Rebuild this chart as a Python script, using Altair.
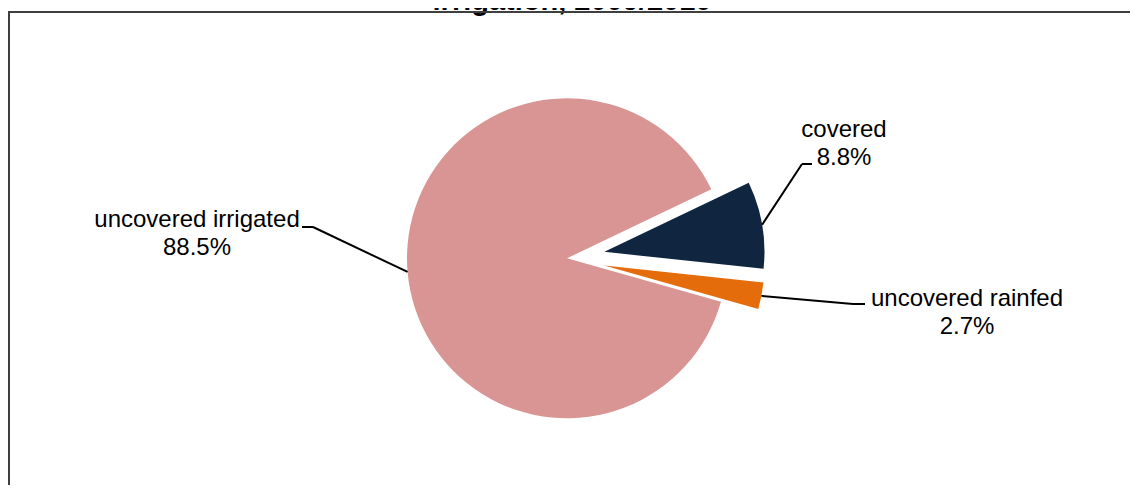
import math
import altair as alt
import pandas as pd

# ---- data ----
categories = ["covered", "uncovered rainfed", "uncovered irrigated"]
shares = [8.8, 2.7, 88.5]
slice_order = [0, 1, 2]
colors = ["#10253F", "#E46C0A", "#D99594"]
title_text = "irrigation, 2009/2010"

# ---- layout (view pixels) ----
W, H = 1122, 477
CX, CY, R = 559, 250.3, 160
START = math.radians(64.4)
EXPLODE = 38
FONT = "Liberation Sans"
label_layout = {
    "covered": dict(tx=836, ty=129, ex=794, ey=156, end=804),
    "uncovered rainfed": dict(tx=959, ty=298, ex=845, ey=296, end=857),
    "uncovered irrigated": dict(tx=189, ty=219, ex=305, ey=219, end=294),
}

df = pd.DataFrame({"category": categories, "value": shares, "order": slice_order})
for key in ["tx", "ty", "ex", "ey", "end"]:
    df[key] = [label_layout[c][key] for c in categories]


def geo(chart):
    return (
        chart.transform_joinaggregate(total="sum(value)")
        .transform_window(cum="sum(value)", sort=[alt.SortField("order")], frame=[None, 0])
        .transform_calculate(
            mid=f"{START} + 2*PI*(datum.cum - datum.value/2)/datum.total",
            xp=f"datum.category == 'uncovered irrigated' ? 0 : {EXPLODE}",
        )
        .transform_calculate(
            px=f"{CX} + datum.xp*sin(datum.mid)",
            py=f"{CY} - datum.xp*cos(datum.mid)",
        )
        .transform_calculate(
            lx=f"datum.px + {R}*sin(datum.mid)",
            ly=f"datum.py - {R}*cos(datum.mid)",
            lines="[datum.category, format(datum.value, '.1f') + '%']",
        )
    )


base = alt.Chart(df)

arcs = geo(base).mark_arc(outerRadius=R, stroke=None).encode(
    theta=alt.Theta("value:Q", stack=True,
                    scale=alt.Scale(range=[START, START + 2 * math.pi], nice=False)),
    order=alt.Order("order:Q"),
    color=alt.Color("category:N", scale=alt.Scale(domain=categories, range=colors), legend=None),
    x=alt.X("px:Q", scale=None, axis=None),
    y=alt.Y("py:Q", scale=None, axis=None),
)

lead1 = geo(base).mark_rule(color="black", strokeWidth=2).encode(
    x=alt.X("lx:Q", scale=None, axis=None),
    y=alt.Y("ly:Q", scale=None, axis=None),
    x2="ex:Q",
    y2="ey:Q",
)
lead2 = geo(base).mark_rule(color="black", strokeWidth=2).encode(
    x=alt.X("ex:Q", scale=None, axis=None),
    y=alt.Y("ey:Q", scale=None, axis=None),
    x2="end:Q",
    y2="ey:Q",
)

labels = geo(base).mark_text(
    font=FONT, fontSize=24, lineHeight=28, align="center", baseline="alphabetic", color="black"
).encode(
    x=alt.X("tx:Q", scale=None, axis=None),
    y=alt.Y("ty:Q", scale=None, axis=None),
    text="lines:N",
)

one = alt.Data(values=[{"t": title_text}])
title = alt.Chart(one).mark_text(
    font=FONT, fontSize=29, fontWeight="bold", align="center", baseline="alphabetic", color="black"
).encode(x=alt.value(564), y=alt.value(1.5), text="t:N")

border_top = alt.Chart(one).mark_rule(color="#3f3f3f", strokeWidth=2).encode(
    x=alt.value(0), x2=alt.value(W), y=alt.value(4), y2=alt.value(4)
)
border_left = alt.Chart(one).mark_rule(color="#3f3f3f", strokeWidth=2).encode(
    x=alt.value(1), x2=alt.value(1), y=alt.value(3), y2=alt.value(H)
)

chart = alt.layer(arcs, lead1, lead2, labels, title, border_top, border_left).properties(
    width=W, height=H, autosize=alt.AutoSizeParams(type="none"), padding=0,
    background="white",
).configure_view(stroke=None)

chart.save("out.html", embed_options={"renderer": "svg", "actions": False})
